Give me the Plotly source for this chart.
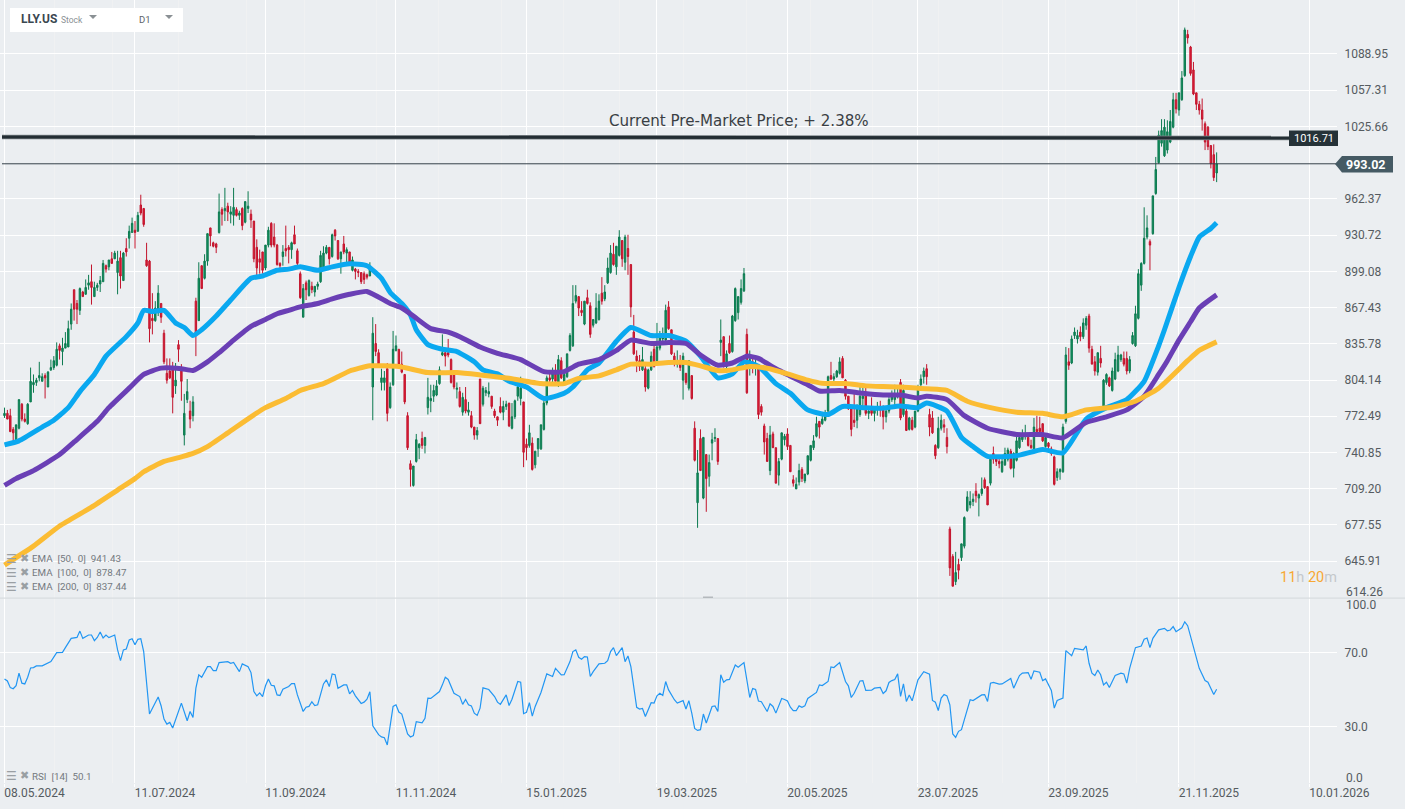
#!/usr/bin/env python3
"""LLY.US daily chart with EMA 50/100/200 and RSI pane, values read from the picture"""

import plotly.graph_objects as go

# --- candles, one per session ---
opens = [
    773, 775, 773, 761, 752, 762, 783, 770, 766, 785,
    800, 802, 806, 803, 808, 798, 813, 815, 817, 834,
    829, 832, 833, 853, 883, 871, 865, 881, 879, 887,
    890, 877, 885, 888, 890, 904, 903, 910, 910, 898,
    911, 891, 919, 928, 933, 935, 934, 957, 954, 909,
    908, 858, 856, 863, 871, 845, 810, 812, 813, 799,
    835, 813, 756, 787, 777, 773, 873, 856, 904, 893,
    908, 937, 924, 923, 933, 953, 952, 956, 949, 948,
    953, 948, 954, 942, 954, 949, 943, 920, 910, 916,
    902, 922, 941, 929, 922, 906, 912, 919, 920, 918,
    931, 917, 897, 859, 889, 878, 886, 881, 886, 890,
    902, 915, 920, 912, 935, 926, 910, 923, 915, 916,
    900, 901, 899, 898, 897, 896, 895, 798, 836, 828,
    802, 802, 814, 780, 800, 830, 831, 818, 809, 773,
    731, 712, 733, 745, 753, 747, 780, 786, 790, 791,
    801, 826, 828, 828, 822, 810, 796, 794, 776, 787,
    776, 773, 763, 756, 805, 783, 793, 792, 790, 777,
    772, 781, 776, 781, 784, 762, 772, 790, 788, 785,
    748, 747, 749, 730, 744, 744, 761, 784, 806, 805,
    810, 800, 821, 801, 807, 830, 834, 873, 877, 865,
    853, 876, 869, 852, 854, 857, 880, 875, 889, 898,
    914, 903, 913, 926, 907, 919, 905, 846, 825, 821,
    813, 814, 797, 813, 831, 821, 832, 840, 839, 868,
    848, 825, 818, 820, 804, 810, 797, 808, 762, 697,
    753, 701, 739, 720, 749, 753, 753, 837, 842, 816,
    836, 829, 856, 863, 872, 882, 844, 815, 820, 815,
    816, 781, 764, 753, 725, 757, 745, 721, 735, 752,
    757, 747, 717, 709, 715, 726, 716, 722, 734, 745,
    755, 768, 766, 769, 777, 808, 805, 807, 810, 823,
    804, 790, 779, 769, 769, 774, 788, 792, 775, 778,
    775, 778, 781, 778, 772, 777, 787, 787, 790, 802,
    774, 777, 761, 769, 763, 777, 800, 807, 814, 774,
    771, 747, 745, 762, 765, 754, 674, 650, 628, 643,
    649, 659, 690, 695, 698, 707, 701, 705, 717, 711,
    714, 740, 736, 733, 724, 730, 735, 742, 727, 734,
    745, 752, 755, 754, 747, 742, 761, 762, 766, 746,
    749, 744, 737, 719, 724, 724, 768, 820, 819, 843,
    840, 846, 842, 852, 860, 831, 820, 811, 823, 781,
    802, 806, 795, 805, 812, 822, 823, 823, 812, 836,
    834, 858, 887, 906, 929, 925, 932, 967, 994, 1011,
    1000, 1005, 1012, 1025, 1049, 1040, 1049, 1070, 1106, 1095,
    1075, 1055, 1045, 1040, 1028, 1025, 1009, 1001, 985,
]
highs = [
    780, 778, 779, 763, 765, 787, 784, 775, 784, 815,
    809, 806, 820, 810, 810, 812, 822, 825, 837, 836,
    841, 846, 856, 871, 883, 874, 885, 882, 892, 896,
    905, 890, 889, 895, 909, 905, 909, 916, 917, 917,
    917, 916, 928, 939, 946, 943, 951, 966, 954, 924,
    909, 880, 873, 887, 871, 848, 823, 823, 820, 819,
    839, 818, 792, 805, 786, 790, 876, 907, 904, 914,
    932, 937, 925, 924, 967, 955, 972, 959, 956, 972,
    955, 952, 955, 960, 969, 953, 943, 927, 918, 916,
    922, 938, 942, 941, 923, 907, 922, 939, 922, 925,
    939, 919, 899, 888, 891, 892, 890, 886, 890, 917,
    921, 922, 920, 932, 936, 926, 916, 930, 920, 916,
    912, 902, 901, 898, 899, 897, 907, 859, 853, 831,
    814, 812, 819, 802, 847, 843, 831, 829, 809, 776,
    734, 729, 757, 749, 759, 754, 806, 800, 800, 804,
    816, 844, 829, 840, 823, 810, 802, 798, 793, 798,
    785, 777, 763, 763, 805, 799, 798, 802, 790, 779,
    772, 789, 786, 786, 784, 784, 787, 800, 807, 785,
    753, 765, 754, 742, 753, 765, 786, 808, 810, 815,
    818, 826, 824, 812, 827, 845, 887, 887, 877, 873,
    873, 883, 872, 857, 880, 879, 894, 887, 911, 922,
    924, 921, 935, 926, 931, 931, 905, 861, 830, 826,
    833, 819, 814, 829, 838, 854, 847, 850, 870, 873,
    848, 828, 830, 826, 828, 810, 821, 808, 768, 743,
    761, 754, 739, 739, 758, 762, 753, 857, 842, 830,
    843, 861, 885, 877, 892, 902, 849, 830, 826, 822,
    816, 783, 766, 758, 764, 759, 745, 736, 758, 757,
    762, 747, 721, 719, 731, 728, 722, 738, 747, 756,
    772, 768, 773, 778, 808, 820, 810, 813, 824, 825,
    805, 790, 780, 792, 783, 798, 798, 798, 778, 789,
    780, 785, 786, 782, 778, 790, 795, 800, 797, 805,
    800, 782, 772, 772, 777, 800, 809, 815, 818, 779,
    777, 748, 772, 774, 770, 762, 676, 652, 654, 648,
    661, 685, 707, 707, 705, 714, 705, 719, 719, 711,
    735, 746, 738, 738, 737, 745, 745, 744, 741, 757,
    758, 761, 765, 758, 752, 771, 773, 772, 766, 755,
    750, 746, 738, 727, 727, 766, 833, 832, 843, 850,
    848, 851, 858, 860, 862, 834, 825, 828, 834, 805,
    810, 807, 815, 828, 834, 827, 829, 829, 825, 846,
    869, 901, 907, 955, 948, 927, 965, 999, 1022, 1032,
    1032, 1031, 1040, 1055, 1055, 1055, 1074, 1112, 1110, 1096,
    1082, 1055, 1048, 1050, 1030, 1026, 1009, 1010, 1003,
]
lows = [
    771, 770, 759, 750, 750, 761, 768, 767, 765, 785,
    793, 799, 803, 803, 788, 798, 812, 813, 816, 822,
    817, 832, 833, 848, 856, 853, 861, 877, 879, 883,
    870, 877, 882, 881, 890, 898, 900, 906, 910, 879,
    884, 891, 912, 919, 933, 919, 934, 948, 938, 903,
    837, 844, 855, 860, 854, 818, 801, 805, 775, 792,
    820, 786, 747, 784, 762, 768, 825, 856, 884, 892,
    904, 921, 920, 915, 932, 939, 943, 943, 941, 939,
    947, 944, 935, 941, 950, 937, 907, 895, 897, 897,
    900, 920, 920, 920, 904, 901, 904, 912, 906, 910,
    923, 901, 875, 859, 874, 877, 880, 877, 883, 889,
    900, 914, 905, 911, 926, 909, 897, 914, 906, 905,
    899, 892, 894, 888, 888, 892, 895, 769, 825, 816,
    795, 795, 768, 779, 799, 829, 817, 810, 783, 743,
    711, 711, 732, 735, 744, 740, 774, 776, 785, 790,
    800, 825, 816, 824, 801, 796, 788, 780, 773, 775,
    773, 762, 752, 752, 766, 781, 790, 789, 779, 771,
    764, 775, 769, 778, 763, 761, 770, 786, 782, 728,
    734, 745, 725, 727, 737, 743, 760, 782, 800, 800,
    803, 798, 805, 800, 806, 829, 833, 871, 860, 860,
    852, 870, 841, 850, 853, 856, 870, 873, 888, 897,
    904, 896, 912, 903, 900, 896, 859, 826, 811, 812,
    812, 794, 796, 812, 815, 820, 830, 835, 838, 848,
    826, 816, 815, 812, 787, 800, 795, 787, 733, 675,
    725, 700, 689, 711, 734, 750, 730, 825, 815, 812,
    827, 828, 855, 857, 870, 881, 792, 808, 810, 808,
    770, 773, 739, 733, 721, 745, 714, 712, 734, 747,
    743, 724, 711, 709, 712, 715, 714, 721, 733, 743,
    754, 753, 765, 768, 776, 804, 803, 806, 809, 806,
    787, 778, 755, 763, 762, 772, 780, 773, 770, 773,
    768, 773, 772, 761, 767, 775, 785, 780, 788, 769,
    772, 760, 760, 760, 762, 776, 799, 801, 800, 755,
    757, 735, 744, 760, 758, 740, 633, 624, 625, 630,
    646, 657, 689, 692, 694, 697, 685, 703, 709, 695,
    712, 731, 729, 727, 723, 729, 733, 726, 719, 733,
    744, 750, 752, 746, 744, 741, 755, 755, 750, 745,
    744, 738, 712, 716, 717, 723, 766, 813, 818, 840,
    836, 838, 840, 848, 828, 818, 808, 808, 815, 780,
    800, 798, 794, 804, 811, 820, 816, 809, 810, 835,
    833, 857, 882, 905, 927, 900, 931, 966, 993, 1008,
    999, 1002, 1011, 1024, 1037, 1035, 1048, 1069, 1098, 1070,
    1053, 1040, 1036, 1022, 1005, 1005, 989, 978, 977,
]
closes = [
    775, 770, 759, 758, 765, 787, 770, 768, 783, 803,
    802, 804, 808, 807, 806, 811, 815, 821, 831, 830,
    832, 836, 849, 866, 866, 866, 884, 877, 885, 889,
    885, 885, 887, 891, 906, 901, 909, 906, 915, 908,
    895, 915, 916, 934, 941, 933, 948, 950, 940, 904,
    849, 856, 867, 880, 859, 820, 804, 806, 789, 804,
    831, 803, 775, 794, 770, 785, 845, 893, 884, 908,
    932, 930, 921, 920, 951, 949, 954, 951, 951, 955,
    948, 950, 939, 960, 956, 944, 910, 902, 907, 900,
    922, 935, 922, 922, 905, 904, 916, 917, 918, 924,
    923, 906, 876, 884, 883, 891, 883, 886, 888, 913,
    915, 920, 910, 931, 930, 910, 916, 916, 918, 906,
    909, 899, 898, 890, 892, 894, 902, 845, 829, 818,
    806, 806, 775, 798, 831, 834, 818, 811, 785, 745,
    726, 729, 752, 748, 747, 754, 789, 788, 795, 799,
    813, 828, 825, 826, 802, 798, 797, 781, 789, 777,
    778, 763, 756, 760, 766, 797, 795, 794, 781, 773,
    769, 776, 781, 783, 764, 772, 786, 798, 797, 741,
    745, 758, 726, 742, 753, 765, 784, 806, 804, 810,
    803, 822, 806, 809, 827, 843, 871, 878, 867, 863,
    873, 871, 844, 857, 867, 873, 873, 881, 902, 915,
    905, 921, 929, 910, 929, 912, 868, 827, 821, 816,
    822, 798, 813, 825, 816, 833, 843, 842, 865, 849,
    827, 821, 820, 815, 825, 802, 821, 788, 734, 723,
    725, 754, 718, 732, 752, 754, 733, 839, 818, 827,
    828, 860, 884, 877, 884, 897, 793, 822, 815, 818,
    774, 776, 750, 733, 756, 745, 714, 733, 758, 755,
    746, 724, 714, 713, 725, 718, 722, 738, 747, 751,
    766, 763, 770, 772, 807, 805, 807, 812, 820, 806,
    790, 779, 761, 767, 779, 790, 790, 775, 777, 775,
    779, 781, 778, 772, 777, 787, 790, 792, 792, 771,
    795, 760, 771, 761, 777, 796, 805, 812, 807, 763,
    758, 738, 762, 769, 763, 746, 640, 624, 636, 638,
    661, 684, 702, 698, 700, 703, 704, 709, 710, 695,
    735, 735, 733, 731, 733, 740, 743, 727, 740, 751,
    754, 756, 757, 747, 745, 763, 759, 759, 751, 754,
    746, 740, 713, 724, 726, 763, 826, 817, 840, 846,
    843, 842, 854, 858, 832, 818, 812, 828, 819, 804,
    809, 799, 812, 822, 826, 826, 818, 812, 822, 843,
    862, 897, 906, 928, 937, 922, 965, 988, 1018, 1022,
    1025, 1021, 1030, 1049, 1041, 1055, 1068, 1110, 1103, 1072,
    1054, 1045, 1040, 1032, 1012, 1008, 993, 981, 993,
]

# --- moving averages, read at the bars where the curve can be read ---
ema50_x = [
    0, 5, 13, 17, 22, 26, 31, 35, 42, 46, 48, 51, 55, 59, 62, 65, 68, 73, 78, 85,
    89, 94, 98, 102, 108, 113, 119, 125, 130, 133, 137, 140, 142, 146, 151, 156, 162, 165, 170, 174,
    180, 186, 193, 196, 201, 205, 211, 216, 223, 229, 235, 240, 246, 251, 255, 260, 266, 271, 277, 284,
    289, 296, 302, 309, 315, 318, 325, 330, 334, 339, 349, 358, 365, 373, 380, 387, 393, 398, 400, 405,
    409, 412, 416, 418,
]
ema50 = [
    747.5, 751, 763, 769, 780, 794, 809, 825, 842, 854, 865, 864, 865, 854, 850, 843, 848, 860, 874, 893,
    895, 900, 901, 903, 900, 903, 905.6, 904, 893, 880.6, 871, 861, 848, 835, 831, 829, 820, 813, 809.5, 803,
    798, 788, 792.5, 798, 813, 819, 838, 850, 843, 843, 838, 825, 806, 809.5, 820, 816, 801, 792.5, 778, 774,
    781, 780, 779.4, 781.5, 780, 784, 777, 754, 746, 737.5, 738, 743.4, 740.5, 770, 780, 787, 803, 834, 848, 885,
    912, 929, 936.5, 941.43,
]
ema100_x = [
    0, 4, 10, 19, 24, 32, 36, 43, 48, 54, 61, 65, 70, 74, 79, 85, 90, 94, 98, 102,
    108, 113, 119, 125, 133, 137, 141, 147, 153, 157, 164, 170, 178, 186, 193, 198, 205, 211, 216, 223,
    229, 235, 240, 246, 251, 256, 260, 266, 277, 281, 288, 296, 303, 309, 315, 318, 325, 331, 339, 349,
    358, 365, 373, 380, 387, 393, 398, 401, 405, 409, 412, 418,
]
ema100 = [
    712, 718, 725, 739, 750, 768, 780, 797, 809, 814.5, 814, 812.5, 820, 828, 839, 851, 857, 862, 865, 868,
    871, 875, 879, 881.5, 871, 867, 860, 849, 846, 842, 833, 827.5, 822, 811.5, 811.5, 818, 822, 830, 839, 836,
    837, 836, 826, 817, 819, 825, 823, 814, 800, 794.5, 795, 792.5, 791, 791, 788.5, 790, 787, 773, 762, 756.5,
    756.5, 753.6, 767, 772, 778, 790, 809, 821, 839, 855, 867, 878.47,
]
ema200_x = [
    0, 10, 19, 30, 39, 45, 48, 55, 61, 65, 70, 77, 85, 90, 97, 102, 110, 115, 119, 126,
    136, 146, 156, 164, 174, 185, 193, 198, 205, 211, 216, 223, 229, 235, 240, 246, 251, 257, 263, 270,
    277, 282, 290, 297, 303, 309, 318, 325, 332, 340, 349, 358, 365, 373, 382, 390, 398, 408, 412, 418,
]
ema200 = [
    642.5, 659, 676.6, 693, 708, 718, 724, 733, 737, 740, 746, 758, 772, 780, 788, 795, 801, 807, 812, 816.5,
    816, 810.6, 810.6, 808.6, 805.6, 801, 801, 805.6, 807.7, 813, 818, 818, 819.4, 819.4, 816.5, 812.4, 813, 816, 814.4, 809.5,
    804, 801.3, 801, 799, 798.4, 798, 796.4, 795, 785.6, 780, 776, 775, 772, 778, 780.4, 785.6, 797, 821, 830, 837.44,
]

# --- RSI turning points ---
rsi_x = [
    0, 1, 2, 3, 4, 5, 6, 7, 8, 9, 10, 11, 13, 16, 18, 20, 21, 23, 25, 26,
    27, 29, 30, 31, 32, 33, 34, 35, 36, 38, 39, 40, 41, 42, 43, 44, 45, 46, 47, 48,
    50, 53, 54, 55, 56, 57, 58, 59, 61, 63, 64, 65, 66, 67, 68, 70, 71, 72, 73, 74,
    77, 78, 79, 81, 82, 84, 85, 86, 87, 88, 89, 90, 91, 92, 93, 94, 95, 96, 98, 99,
    100, 101, 103, 104, 105, 106, 107, 108, 110, 111, 112, 113, 114, 115, 117, 118, 119, 120, 121, 123,
    124, 125, 126, 127, 128, 129, 130, 131, 132, 133, 134, 135, 136, 137, 138, 139, 140, 141, 142, 144,
    145, 146, 147, 150, 151, 152, 153, 155, 157, 158, 159, 160, 161, 162, 163, 164, 165, 167, 169, 170,
    171, 173, 174, 175, 177, 178, 179, 180, 181, 182, 183, 185, 187, 189, 190, 192, 193, 195, 196, 197,
    198, 199, 200, 201, 202, 203, 205, 207, 208, 209, 210, 211, 213, 214, 215, 216, 218, 219, 220, 221,
    223, 224, 225, 226, 227, 228, 229, 231, 232, 234, 235, 236, 237, 238, 239, 240, 241, 242, 244, 245,
    246, 247, 248, 249, 250, 252, 253, 255, 257, 258, 259, 260, 261, 263, 264, 265, 266, 268, 269, 270,
    271, 272, 273, 274, 275, 276, 277, 279, 280, 281, 282, 283, 284, 285, 286, 288, 290, 291, 292, 293,
    295, 296, 297, 299, 300, 302, 303, 304, 305, 306, 307, 308, 309, 310, 311, 312, 313, 315, 317, 319,
    320, 321, 322, 323, 324, 325, 326, 327, 328, 329, 330, 331, 333, 334, 337, 338, 339, 340, 341, 343,
    344, 347, 348, 350, 351, 353, 354, 355, 357, 358, 359, 361, 362, 363, 365, 366, 368, 369, 371, 372,
    373, 374, 375, 376, 377, 378, 379, 380, 381, 383, 385, 386, 387, 388, 390, 392, 393, 394, 395, 396,
    398, 400, 401, 402, 403, 404, 406, 407, 408, 410, 411, 412, 414, 415, 417, 418,
]
rsi = [
    55.7, 54.6, 51, 50.4, 52.1, 58.8, 53.4, 53, 56.6, 61.6, 61.8, 62.7, 62.7, 65, 69.8, 70, 72.5, 77.5, 78, 81.4,
    77.5, 79.3, 79.3, 76.3, 78, 80.9, 77.7, 79.3, 77.9, 79.3, 71.3, 65.5, 71.3, 71.8, 76.6, 77.3, 74.1, 77, 77.3, 70.4,
    36.8, 46, 41.3, 34.1, 31.4, 32.3, 29.3, 34.1, 42.7, 33.2, 38.2, 35, 50.7, 57.9, 56.6, 62.3, 62.3, 60.2, 60.2, 64.5,
    65, 64.1, 64.5, 59.6, 63.8, 62.3, 59.1, 48.9, 46.6, 48.2, 46.2, 52, 55.7, 52.3, 52, 47.1, 46.8, 50.2, 51.6, 53.2,
    53.2, 47.1, 38.2, 40.5, 40.9, 43.4, 41.4, 41.8, 53, 55.2, 51.6, 58.4, 58, 50.7, 52.5, 52.5, 47.7, 49.5, 46.6, 42.5,
    43.2, 44.8, 48.8, 30.5, 28, 25.7, 24.5, 24.1, 20.2, 32, 40.9, 41.8, 37.9, 36.8, 32, 26.1, 24.5, 25.2, 32.7, 32.1,
    34.5, 45.4, 45.2, 48.9, 52.5, 56.6, 55.4, 48, 46.2, 42, 44.6, 41.8, 41.2, 37.3, 36.1, 40, 50.9, 50, 46.2, 43.2,
    42, 47.1, 41.4, 44.8, 54.3, 53.9, 37, 37.7, 42.9, 35.7, 40.9, 48.4, 58.4, 57, 61.4, 57.9, 58, 65, 70.4, 71.3,
    67.3, 66.3, 67.7, 67.5, 57, 59.6, 63.8, 64.1, 65.5, 70.4, 72.5, 68.2, 72.5, 65, 68, 62.3, 40.4, 39.5, 39.8, 35.5,
    42.9, 42.7, 46.6, 48, 46.8, 54.3, 49.8, 44.5, 42.7, 44, 39.5, 44, 37.3, 29.1, 28, 28.4, 36.8, 32, 40.9, 41.2,
    38.2, 57.9, 53.9, 55.2, 55.4, 63.2, 62, 64.5, 45.7, 50.5, 50, 43.8, 43.4, 38.2, 42.3, 40.9, 37.3, 45.2, 44.6, 43.8,
    40.5, 38.6, 38.6, 41.2, 40.4, 41.2, 45.2, 47.1, 48.4, 52.5, 52.1, 53.2, 54.3, 62.1, 61.8, 64.5, 54.3, 52, 45.7, 48,
    54.6, 54.8, 49.5, 49.6, 50.7, 51.1, 47.9, 49.3, 53.8, 54.8, 55.4, 58.4, 46.3, 53, 43.6, 47.1, 43.9, 55.2, 59.6, 58.2,
    44.1, 43.2, 38.7, 45.4, 47.3, 46.6, 41.8, 26.1, 24.3, 27.5, 28.4, 33.8, 44.5, 44.1, 47.1, 47.3, 43.6, 53.4, 53.8, 52.9,
    53, 55.9, 50.7, 57.5, 58.8, 59.1, 55.5, 60, 59.3, 54.8, 55.7, 49.5, 40, 44.1, 45.4, 70.9, 68.2, 72.1, 71.3, 71.3,
    73.4, 64.1, 58.8, 57.5, 60.5, 57.9, 52.5, 53.9, 51.1, 57.5, 58.8, 58.4, 53.4, 61.4, 72.5, 73.4, 77, 77.7, 72.5, 77.5,
    82.1, 82.9, 81.6, 82, 83.8, 81.1, 83.2, 86.4, 84.3, 72.5, 66.8, 61.4, 54.8, 53.9, 47.3, 50.1,
]

# --- axes ---
date_ticks = [0, 45, 90, 135, 180, 225, 270, 315, 360, 405, 450]
date_labels = [
    "08.05.2024", "11.07.2024", "11.09.2024", "11.11.2024", "15.01.2025", "19.03.2025",
    "20.05.2025", "23.07.2025", "23.09.2025", "21.11.2025", "10.01.2026",
]
month_starts = [
    17.4, 37.4, 60, 83.6, 103.6, 128.4, 149.8, 171.4, 192.6, 212,
    234, 256, 278, 299.4, 322, 344.3, 366, 390.5, 410.5,
]
price_ticks = [
    1088.95, 1057.31, 1025.66, 962.37, 930.72, 899.08, 867.43,
    835.78, 804.14, 772.49, 740.85, 709.20, 677.55, 645.91,
]
rsi_ticks = [70, 30, 0]
rsi_tick_labels = ["70.0", "30.0", ""]

premarket_price = 1016.71
# the hand-drawn level runs very slightly downhill
premarket_line_start = 1016.5
premarket_line_end = 1015.5
last_price = 993.02

# --- page geometry in pixels ---
WIDTH = 1405
HEIGHT = 809
PLOT_RIGHT = 1337
PRICE_BOTTOM = 598
RSI_BOTTOM = 782.5

BG = "#ebeef1"
TICK_COLOR = "#555b60"


def px_x(x):
    return x / WIDTH


def px_y(y):
    return 1 - y / HEIGHT


def label(x, y, text, size=12, color=TICK_COLOR, family="Roboto", anchor="left", **kwargs):
    """Annotation placed by page pixels"""
    return dict(
        x=px_x(x), y=px_y(y), xref="paper", yref="paper", text=text, showarrow=False,
        xanchor=anchor, yanchor="middle", font=dict(size=size, color=color, family=family),
        borderpad=0, **kwargs,
    )


def box(x0, y0, x1, y1, color, **kwargs):
    return dict(
        type="rect", xref="paper", yref="paper", x0=px_x(x0), x1=px_x(x1), y0=px_y(y0), y1=px_y(y1),
        fillcolor=color, line=dict(width=0), **kwargs,
    )


fig = go.Figure()

fig.add_trace(go.Candlestick(
    x=list(range(len(opens))), open=opens, high=highs, low=lows, close=closes,
    increasing=dict(line=dict(color="#0c7a50", width=1), fillcolor="#13945f"),
    decreasing=dict(line=dict(color="#c2142c", width=1), fillcolor="#e11d38"),
    whiskerwidth=0, showlegend=False, name="LLY.US", xaxis="x", yaxis="y",
))

for xs, ys, color, name in [
    (ema50_x, ema50, "#0aa8f0", "EMA 50"),
    (ema100_x, ema100, "#6a3fb5", "EMA 100"),
    (ema200_x, ema200, "#fbbc33", "EMA 200"),
]:
    fig.add_trace(go.Scatter(
        x=xs, y=ys, mode="lines", name=name, showlegend=False, xaxis="x", yaxis="y",
        line=dict(color=color, width=5, shape="spline", smoothing=0.5),
    ))

fig.add_trace(go.Scatter(
    x=rsi_x, y=rsi, mode="lines", name="RSI", showlegend=False, xaxis="x", yaxis="y2",
    line=dict(color="#2196f3", width=1.2),
))

shapes = [
    # header box and pane divider
    box(10, 8, 183, 32, "#ffffff"),
    box(0, 597.5, WIDTH, 598.7, "#d8dcdf"),
    box(703, 596.5, 713, 598, "#b4b9bd"),
    # current levels
    dict(type="line", xref="paper", yref="y", x0=px_x(2), x1=px_x(1289),
         y0=premarket_line_start, y1=premarket_line_end, line=dict(color="#7f878b", width=4.5)),
    dict(type="line", xref="paper", yref="y", x0=px_x(2), x1=px_x(1289),
         y0=premarket_line_start, y1=premarket_line_end, line=dict(color="#232d33", width=3)),
    dict(type="line", xref="paper", yref="y", x0=px_x(2), x1=px_x(1336), y0=last_price, y1=last_price,
         line=dict(color="#35424a", width=1)),
    box(1289, 130.5, 1338, 146, "#263238"),
    # price tag with its pointer
    dict(type="path", xref="paper", yref="paper", fillcolor="#455a64", line=dict(width=0),
         path=f"M {px_x(1335)} {px_y(164)} L {px_x(1342)} {px_y(156)} L {px_x(1393)} {px_y(156)} "
              f"L {px_x(1393)} {px_y(172.5)} L {px_x(1342)} {px_y(172.5)} Z"),
    # arrows of the header selectors
    dict(type="path", xref="paper", yref="paper", fillcolor="#8a9094", line=dict(width=0),
         path=f"M {px_x(89)} {px_y(15)} L {px_x(97)} {px_y(15)} L {px_x(93)} {px_y(19)} Z"),
    dict(type="path", xref="paper", yref="paper", fillcolor="#8a9094", line=dict(width=0),
         path=f"M {px_x(165)} {px_y(15)} L {px_x(173)} {px_y(15)} L {px_x(169)} {px_y(19)} Z"),
]

annotations = [
    label(20, 18.5, "<b>LLY.US</b>", size=12, color="#3b4750"),
    label(60, 19.5, "Stock", size=8.5, color="#8a9094"),
    label(138, 19.5, "D1", size=9.5, color="#5b6368"),
    label(739, 120.5, "Current Pre-Market Price; + 2.38%", size=15.1, color="#3a3f44",
          family="DejaVu Sans", anchor="center"),
    label(1313.5, 138.5, str(premarket_price), size=11, color="#ffffff", anchor="center"),
    label(1365, 164.5, f"<b>{last_price}</b>", size=12.5, color="#ffffff", anchor="center"),
    label(1345, 592, "614.26"),
    label(1345, 605, "100.0"),
    label(1345, 778, "0.0"),
    label(1279, 577,
          '<span style="color:#f7a833">11</span><span style="color:#c4c8cb">h</span> '
          '<span style="color:#f7a833">20</span><span style="color:#c4c8cb">m</span>',
          size=14.5),
]
for text, y in [
    ("EMA  [50,  0]  941.43", 558.5),
    ("EMA  [100,  0]  878.47", 572.5),
    ("EMA  [200,  0]  837.44", 586.5),
]:
    annotations.append(label(5, y, "☰", size=12, color="#9a9fa3", family="DejaVu Sans"))
    annotations.append(label(18.5, y, "✖", size=11, color="#9a9fa3", family="DejaVu Sans"))
    annotations.append(label(31, y, text, size=9.8, color="#73797e"))
annotations.append(label(5, 775.5, "☰", size=12, color="#9a9fa3", family="DejaVu Sans"))
annotations.append(label(18.5, 775.5, "✖", size=11, color="#9a9fa3", family="DejaVu Sans"))
annotations.append(label(31, 776.5, "RSI  [14]  50.1", size=9.8, color="#73797e"))

fig.update_layout(
    width=WIDTH, height=HEIGHT,
    margin=dict(l=0, r=0, t=0, b=0, autoexpand=False),
    paper_bgcolor=BG, plot_bgcolor=BG,
    showlegend=False,
    shapes=shapes,
    annotations=annotations,
    xaxis=dict(
        domain=[0, px_x(PLOT_RIGHT)], range=[-1.55, 459.5], anchor="y2",
        tickmode="array", tickvals=date_ticks, ticktext=date_labels,
        ticks="outside", ticklen=3, tickcolor="#ffffff", ticklabelshift=30, ticklabelstandoff=-4,
        tickfont=dict(family="Roboto", size=12, color=TICK_COLOR),
        showgrid=True, gridcolor="#ffffff", gridwidth=1, zeroline=False, showline=False,
        rangeslider=dict(visible=False),
        minor=dict(tickmode="array", tickvals=month_starts, showgrid=True, gridcolor="#f0f1f2", gridwidth=1, ticks=""),
    ),
    yaxis=dict(
        domain=[px_y(PRICE_BOTTOM), 1], range=[613.7, 1136.1], anchor="x", side="right",
        tickmode="array", tickvals=price_ticks, ticktext=[f"{p:.2f}" for p in price_ticks],
        ticks="outside", ticklen=4, tickcolor="rgba(0,0,0,0)",
        tickfont=dict(family="Roboto", size=12, color=TICK_COLOR),
        showgrid=True, gridcolor="#ffffff", gridwidth=1, zeroline=False, showline=False,
    ),
    yaxis2=dict(
        domain=[px_y(RSI_BOTTOM), px_y(PRICE_BOTTOM)], range=[0, 99.2], anchor="x", side="right",
        tickmode="array", tickvals=rsi_ticks, ticktext=rsi_tick_labels,
        ticks="outside", ticklen=4, tickcolor="rgba(0,0,0,0)",
        tickfont=dict(family="Roboto", size=12, color=TICK_COLOR),
        showgrid=True, gridcolor="#ffffff", gridwidth=1, zeroline=False, showline=False,
    ),
)

fig.write_html(
    "out.html",
    config=dict(displayModeBar=False),
    post_script="document.body.style.margin='0';document.body.style.overflow='hidden';",
)
